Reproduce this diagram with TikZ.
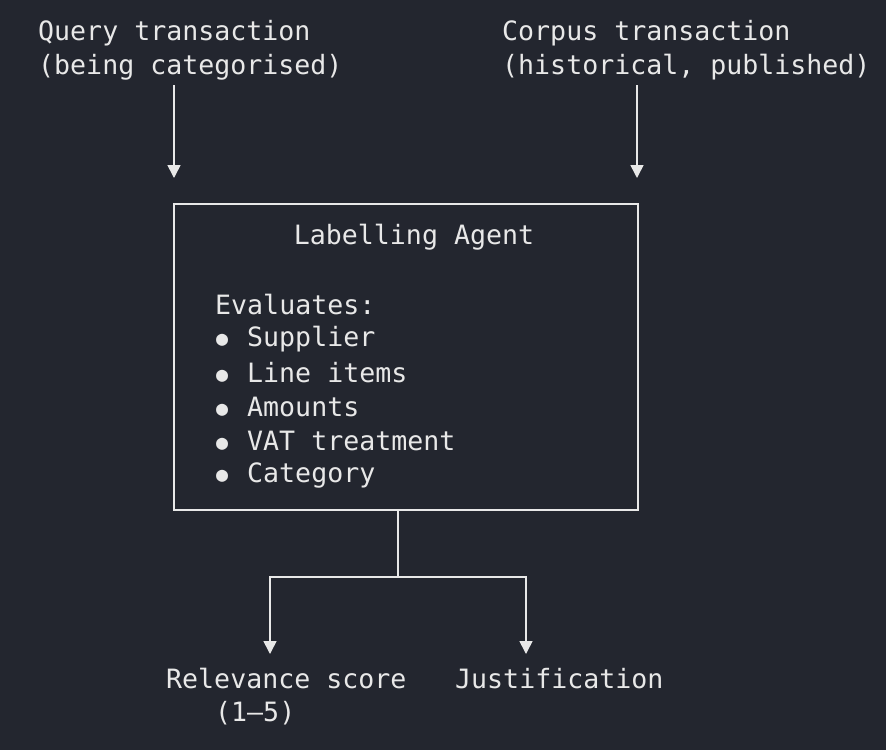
\documentclass[tikz,border=0pt]{standalone}
\usepackage{fontspec}
\setmonofont{DejaVu Sans Mono}
\usetikzlibrary{arrows.meta}
\definecolor{bg}{HTML}{23262F}
\definecolor{fg}{HTML}{E8E8E8}
\newcommand{\mybul}{\makebox[32pt][l]{\hspace{1pt}\raisebox{1pt}{\fontsize{20}{22}\selectfont ●}}}
\begin{document}
\begin{tikzpicture}[x=1pt,y=-1pt,
  txt/.style={anchor=west,inner sep=0pt,text=fg,font=\ttfamily\fontsize{26.6}{30}\selectfont},
  ln/.style={draw=fg,line width=1.6pt},
  arr/.style={ln,-{Triangle[width=13pt,length=13pt]}}]
\fill[bg] (0,0) rectangle (886,750);
\useasboundingbox (0,0) rectangle (886,750);
\node[txt] (q1) at (38,33) {Query transaction};
\node[txt] (q2) at (38,67) {(being categorised)};
\node[txt] (c1) at (502,33) {Corpus transaction};
\node[txt] (c2) at (502,67) {(historical, published)};
\coordinate (qa) at (174,85); \coordinate (qb) at (174,178);
\coordinate (ca) at (637,85); \coordinate (cb) at (637,178);
\draw[arr] (qa) -- (qb);
\draw[arr] (ca) -- (cb);
\node[ln,minimum width=464pt,minimum height=306pt,inner sep=0pt] (box) at (406,357) {};
\node[txt,anchor=center] (title) at (414,237) {Labelling Agent};
\node[txt] (ev) at (215,305) {Evaluates:};
\foreach \t [count=\i] in {Supplier,Line items,Amounts,VAT treatment,Category}{
  \node[txt] (b\i) at (215,305+34*\i) {\mybul\t};
}
\coordinate (s1) at (398,577);
\coordinate (l1) at (270,577); \coordinate (l2) at (270,654);
\coordinate (r1) at (526,577); \coordinate (r2) at (526,654);
\draw[ln] (box.south -| s1) -- (s1);
\draw[arr] (s1) -- (l1) -- (l2);
\draw[arr] (s1) -- (r1) -- (r2);
\node[txt] (rs) at (166,679) {Relevance score};
\node[txt] (rs2) at (215,713) {(1–5)};
\node[txt] (ju) at (455,679) {Justification};
\end{tikzpicture}
\end{document}
